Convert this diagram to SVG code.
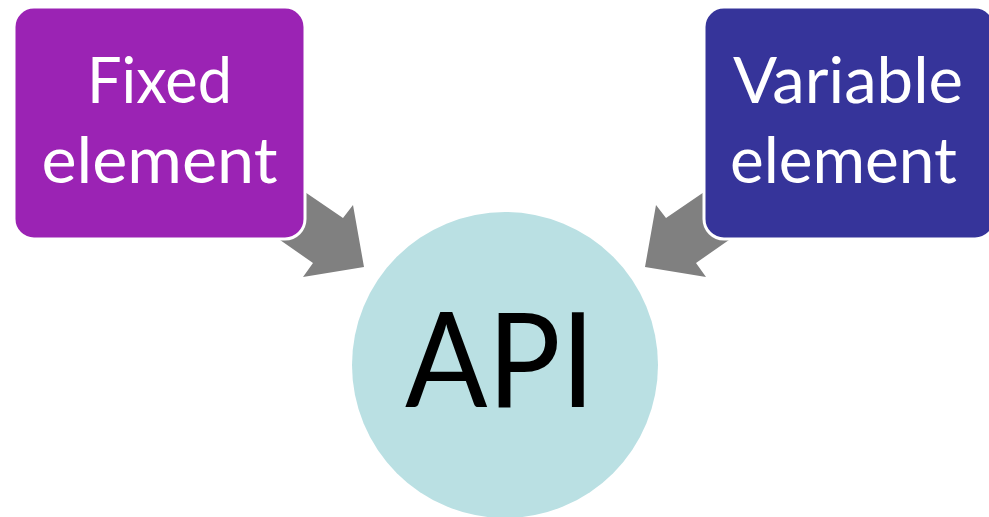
<svg xmlns="http://www.w3.org/2000/svg" width="989" height="517" viewBox="0 0 989 517">
  <style>
    .arrow { fill: #808080; }
    .box { stroke: #ffffff; stroke-width: 3; }
    .label { font-family: Lato, "Open Sans", "Liberation Sans", sans-serif; fill: #ffffff; font-size: 64px; text-anchor: middle; }
    .core { font-family: Lato, "Open Sans", "Liberation Sans", sans-serif; fill: #000000; font-size: 132px; text-anchor: middle; }
  </style>

  <!-- central circle -->
  <g id="api">
    <circle cx="505" cy="365" r="153" fill="#bae0e3"/>
    <text class="core" x="500" y="407" textLength="190" lengthAdjust="spacingAndGlyphs">API</text>
  </g>

  <!-- block arrows feeding the circle -->
  <g id="connectors">
    <polygon class="arrow" points="280,175 343,218 353,205 364,267 303,277 313,263 260,226"/>
    <polygon class="arrow" points="729,175 666,218 656,205 645,267 706,277 696,263 749,226"/>
  </g>

  <g id="fixed">
    <rect class="box" x="14" y="7" width="291" height="232" rx="20" fill="#9b23b4"/>
    <text class="label" x="159.5" y="103" textLength="145" lengthAdjust="spacingAndGlyphs">Fixed</text>
    <text class="label" x="159.5" y="183" textLength="236" lengthAdjust="spacingAndGlyphs">element</text>
  </g>

  <g id="variable">
    <rect class="box" x="704" y="7" width="291" height="232" rx="20" fill="#36349a"/>
    <text class="label" x="848" y="103" textLength="230" lengthAdjust="spacingAndGlyphs">Variable</text>
    <text class="label" x="843.5" y="183" textLength="227" lengthAdjust="spacingAndGlyphs">element</text>
  </g>
</svg>
